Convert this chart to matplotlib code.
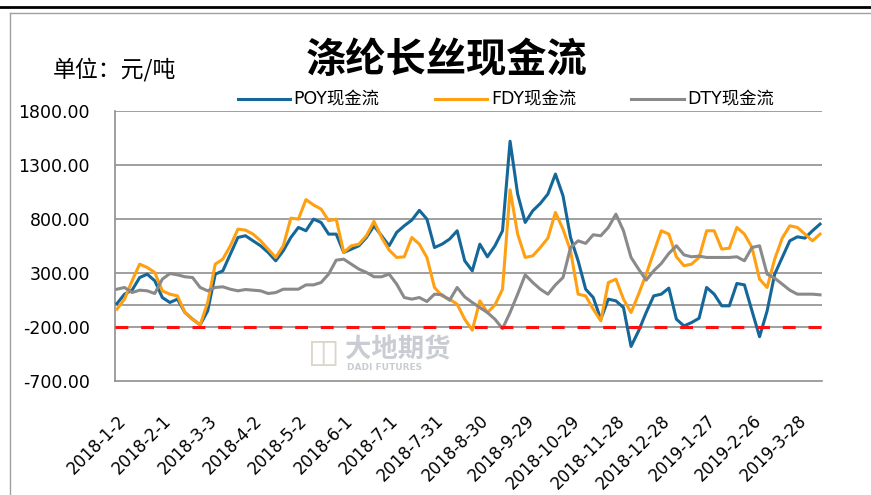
import numpy as np
import pandas as pd
import matplotlib
matplotlib.use('Agg')
import matplotlib.pyplot as plt
import matplotlib.dates as mdates
from matplotlib.lines import Line2D

plt.rcParams['font.family'] = ['DejaVu Sans', 'Noto Sans CJK SC']

# every 5 days starting 2018-1-2
dates = pd.date_range('2018-01-02', periods=94, freq='5D')

poy = [17, 104, 141, 258, 289, 228, 73, 27, 58, -66,
       -128, -180, -51, 289, 320, 475, 629, 645, 598, 552,
       490, 413, 506, 629, 722, 691, 799, 768, 660, 660,
       490, 521, 552, 629, 737, 645, 552, 676, 737, 790,
       880, 799, 536, 567, 614, 691, 413, 320, 567, 450,
       552, 691, 1520, 1031, 768, 876, 944, 1031, 1216, 1015,
       629, 413, 150, 73, -128, 58, 42, -20, -380, -236,
       -66, 88, 104, 160, -128, -190, -159, -119, 166, 104,
       -4, -4, 203, 190, -51, -290, -51, 289, 444, 598,
       635, 623, 691, 753]

fdy = [-35, 58, 228, 382, 351, 305, 135, 104, 88, -66,
       -128, -180, 27, 382, 428, 552, 706, 697, 660, 598,
       521, 444, 552, 808, 799, 980, 930, 892, 784, 799,
       490, 552, 567, 645, 778, 629, 512, 444, 450, 629,
       567, 444, 166, 88, 58, 11, -128, -230, 42, -66,
       4, 150, 1070, 660, 444, 459, 536, 623, 861, 706,
       506, 104, 88, -35, -143, 212, 243, 58, -66, 104,
       289, 490, 691, 660, 450, 367, 382, 444, 691, 691,
       521, 530, 722, 660, 536, 243, 166, 428, 623, 737,
       722, 660, 598, 660]

dty = [150, 166, 119, 141, 135, 110, 243, 295, 283, 265,
       258, 166, 135, 166, 172, 150, 135, 147, 141, 135,
       110, 119, 150, 150, 150, 190, 190, 212, 290, 419,
       428, 382, 336, 305, 265, 265, 290, 197, 73, 58,
       73, 36, 104, 98, 48, 166, 79, 27, -20, -66,
       -128, -215, -66, 104, 283, 212, 150, 104, 190, 258,
       536, 598, 574, 654, 645, 722, 845, 691, 444, 336,
       234, 320, 388, 481, 552, 468, 450, 456, 444, 444,
       444, 444, 450, 413, 536, 552, 290, 252, 197, 141,
       104, 104, 104, 98]

tick_labels = ['2018-1-2', '2018-2-1', '2018-3-3', '2018-4-2', '2018-5-2',
               '2018-6-1', '2018-7-1', '2018-7-31', '2018-8-30', '2018-9-29',
               '2018-10-29', '2018-11-28', '2018-12-28', '2019-1-27',
               '2019-2-26', '2019-3-28']
yticks = [-700, -200, 300, 800, 1300, 1800]
baseline = -200

fig = plt.figure(figsize=(8.71, 4.95), dpi=100)
ax = fig.add_axes([115/871, 1-381/495, (822-115)/871, (381-111)/495])

grid_c = '#8f8f8f'
for v in yticks[1:]:
    ax.axhline(v, color=grid_c, lw=1.2, zorder=1)
ax.axhline(0, color=grid_c, lw=1.2, zorder=1)

ax.plot(dates, poy, color='#15679a', lw=2.2, label='POY现金流', zorder=3)
ax.plot(dates, fdy, color='#ffa012', lw=2.2, label='FDY现金流', zorder=3)
ax.plot(dates, dty, color='#8a8a8a', lw=2.2, label='DTY现金流', zorder=3)
ax.axhline(baseline, color='#ff1010', lw=2.2, dashes=(4.2, 4.2), zorder=4)

start = mdates.date2num(pd.Timestamp('2018-01-02'))
ax.set_xlim(start - 1.3, start + 466.3)
ax.set_ylim(-700, 1800)

ax.set_yticks(yticks)
ax.set_yticklabels(['%.2f' % v for v in yticks], fontsize=12.5)
tick_pos = [pd.Timestamp(s) for s in tick_labels]
ax.set_xticks(tick_pos)
ax.set_xticklabels(tick_labels, fontsize=12, rotation=45, ha='right',
                   va='top', rotation_mode='anchor')
ax.yaxis.set_tick_params(length=0, pad=18)
ax.xaxis.set_tick_params(length=0, pad=22)

for s in ['top', 'right']:
    ax.spines[s].set_visible(False)
ax.spines['left'].set_color(grid_c)
ax.spines['bottom'].set_color(grid_c)
ax.spines['left'].set_linewidth(1.2)
ax.spines['bottom'].set_linewidth(1.2)

# watermark
fig.text(345/871, 1-350/495, '大地期货', fontsize=19, color='#c9ccd2',
         family=['Noto Sans CJK SC'], va='center', ha='left', fontweight='bold')
fig.text(347/871, 1-367/495, 'DADI FUTURES', fontsize=6.5, color='#c9ccd2',
         va='center', ha='left', fontweight='bold')
fig.text(308/871, 1-352/495, '◫', fontsize=24, color='#dcd6c8',
         va='center', ha='left')

# titles
fig.text(447/871, 1-60/495, '涤纶长丝现金流', fontsize=29, ha='center',
         va='center', family=['Noto Sans CJK SC'], fontweight='bold')
fig.text(53/871, 1-70/495, '单位：元/吨', fontsize=16.5, ha='left',
         va='center', family=['Noto Sans CJK SC'])

fig.legend(loc='center', bbox_to_anchor=(506/871, 1-100/495), ncol=3,
           frameon=False, fontsize=12.5, handlelength=3.0, columnspacing=3.2,
           handletextpad=0.2)

# outer frame
fig.add_artist(Line2D([0, 1], [1-7/495, 1-7/495], color='black', lw=2))
fig.add_artist(Line2D([9.5/871, 1], [1-12.5/495, 1-12.5/495], color='#a0a0a0', lw=1))
fig.add_artist(Line2D([9.5/871, 9.5/871], [0, 1-12.5/495], color='#a0a0a0', lw=1))

fig.savefig('out.png', dpi=100)
